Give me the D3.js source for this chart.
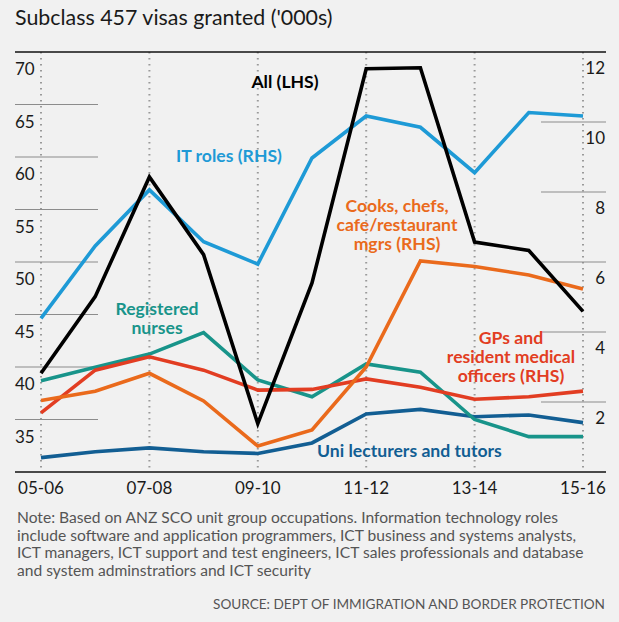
<!DOCTYPE html>
<html>
<head>
<meta charset="utf-8">
<script src="https://cdn.jsdelivr.net/npm/d3@7"></script>
<style>
html,body{margin:0;padding:0;background:#f1f1f1;}
svg{display:block;font-family:Lato, "Open Sans", sans-serif;}
</style>
</head>
<body>
<svg id="chart" width="619" height="622"></svg>
<script>
const years = ["05-06","06-07","07-08","08-09","09-10","10-11","11-12","12-13","13-14","14-15","15-16"];
const tickYears = ["05-06","07-08","09-10","11-12","13-14","15-16"];
const leftTicks = [35,40,45,50,55,60,65,70];
const rightTicks = [2,4,6,8,10,12];

const allLHS   = [39.4,46.7,58.1,50.7,34.6,48.0,68.4,68.5,51.9,51.1,45.3];
const itRoles  = [4.39,6.46,8.06,6.58,5.94,8.97,10.17,9.85,8.55,10.27,10.17];
const cooks    = [2.04,2.31,2.82,2.03,0.74,1.20,3.00,6.03,5.87,5.63,5.23];
const gps      = [1.69,2.91,3.29,2.91,2.34,2.36,2.66,2.42,2.08,2.15,2.31];
const nurses   = [2.61,2.99,3.37,3.98,2.63,2.15,3.09,2.85,1.50,1.01,1.01];
const uni      = [0.41,0.58,0.69,0.58,0.53,0.83,1.66,1.79,1.58,1.63,1.41];

const svg = d3.select("#chart");
const W = 619, H = 622;
svg.append("rect").attr("width",W).attr("height",H).attr("fill","#f1f1f1");

const x = d3.scalePoint().domain(years).range([41,583]);
const yL = d3.scaleLinear().domain([30,70]).range([472,52]);
const yR = d3.scaleLinear().domain([0,12]).range([472,52]);

// title
svg.append("text").attr("x",15).attr("y",25).attr("font-size",21.4).attr("fill","#1a1a1a")
  .text("Subclass 457 visas granted ('000s)");

// vertical dotted gridlines
svg.append("g").selectAll("line").data(tickYears).join("line")
  .attr("x1",d=>x(d)).attr("x2",d=>x(d)).attr("y1",yL(70)).attr("y2",yL(30))
  .attr("stroke","#9a9a9a").attr("stroke-width",2).attr("stroke-dasharray","1.5,4.5");

// left gridlines and labels
svg.append("g").selectAll("line").data(leftTicks.filter(d=>d<70)).join("line")
  .attr("x1",15).attr("x2",98).attr("y1",d=>yL(d)).attr("y2",d=>yL(d))
  .attr("stroke","#8c8c8c").attr("stroke-width",1.2);
svg.append("g").selectAll("text").data(leftTicks).join("text")
  .attr("x",15).attr("y",d=>yL(d)+23).attr("font-size",17).attr("fill","#1a1a1a")
  .text(d=>d);

// right gridlines and labels
svg.append("g").selectAll("line").data(rightTicks.filter(d=>d<12)).join("line")
  .attr("x1",541).attr("x2",606).attr("y1",d=>yR(d)).attr("y2",d=>yR(d))
  .attr("stroke","#8c8c8c").attr("stroke-width",1.2);
svg.append("g").selectAll("text").data(rightTicks).join("text")
  .attr("x",605).attr("y",d=>yR(d)+22).attr("text-anchor","end").attr("font-size",17).attr("fill","#1a1a1a")
  .text(d=>d);

// top and bottom rules
svg.append("line").attr("x1",15).attr("x2",606).attr("y1",yL(70)).attr("y2",yL(70)).attr("stroke","#111").attr("stroke-width",1.5);
svg.append("line").attr("x1",15).attr("x2",606).attr("y1",yL(30)).attr("y2",yL(30)).attr("stroke","#111").attr("stroke-width",1.5);

// x labels
svg.append("g").selectAll("text").data(tickYears).join("text")
  .attr("x",d=>x(d)).attr("y",494).attr("text-anchor","middle").attr("font-size",17).attr("fill","#1a1a1a")
  .text(d=>d);

// series
const series = [
  {vals:uni, scale:yR, color:"#125e93"},
  {vals:nurses, scale:yR, color:"#18948a"},
  {vals:gps, scale:yR, color:"#e23d22"},
  {vals:itRoles, scale:yR, color:"#1e9ad6"},
  {vals:cooks, scale:yR, color:"#ea6a1c"},
  {vals:allLHS, scale:yL, color:"#000000"}
];
series.forEach(s=>{
  const line = d3.line().x((d,i)=>x(years[i])).y(d=>s.scale(d));
  svg.append("path").datum(s.vals).attr("d",line).attr("fill","none")
    .attr("stroke",s.color).attr("stroke-width",3.6).attr("stroke-linejoin","miter");
});

// series labels
const labels = [
  {lines:["All (LHS)"], x:285, y:88, color:"#000", anchor:"middle"},
  {lines:["IT roles (RHS)"], x:229, y:162, color:"#1e9ad6", anchor:"middle"},
  {lines:["Cooks, chefs,","cafe/restaurant","mgrs (RHS)"], x:397, y:212, color:"#ea6a1c", anchor:"middle"},
  {lines:["Registered","nurses"], x:157, y:315, color:"#18948a", anchor:"middle"},
  {lines:["GPs and","resident medical","officers (RHS)"], x:511, y:344, color:"#e23d22", anchor:"middle"},
  {lines:["Uni lecturers and tutors"], x:317, y:457, color:"#125e93", anchor:"start"}
];
labels.forEach(l=>{
  const t = svg.append("text").attr("x",l.x).attr("y",l.y).attr("text-anchor",l.anchor)
    .attr("font-size",17.6).attr("font-weight","bold").attr("fill",l.color);
  l.lines.forEach((s,i)=>t.append("tspan").attr("x",l.x).attr("dy",i?19.2:0).text(s));
});

// note
const note = ["Note: Based on ANZ SCO unit group occupations. Information technology roles",
  "include software and application programmers, ICT business and systems analysts,",
  "ICT managers, ICT support and test engineers, ICT sales professionals and database",
  "and system adminstratiors and ICT security"];
const nt = svg.append("text").attr("x",17).attr("y",523).attr("font-size",15.6).attr("fill","#555");
note.forEach((s,i)=>nt.append("tspan").attr("x",17).attr("dy",i?17.7:0).text(s));

svg.append("text").attr("x",605).attr("y",609).attr("text-anchor","end").attr("font-size",13.6).attr("fill","#555")
  .text("SOURCE: DEPT OF IMMIGRATION AND BORDER PROTECTION");
</script>
</body>
</html>
